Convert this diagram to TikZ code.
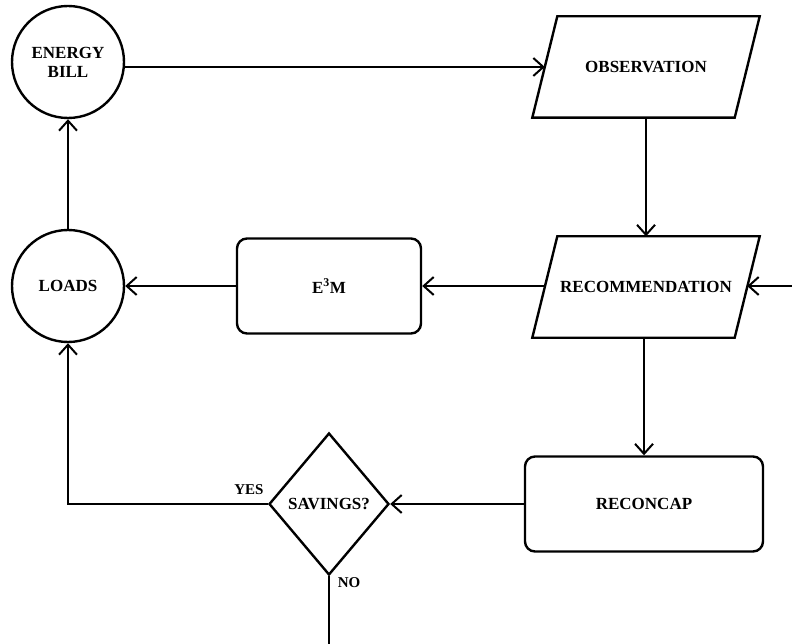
\documentclass[tikz,border=0pt]{standalone}
\usepackage{fontspec}
\setmainfont{Liberation Serif}
\usetikzlibrary{shapes.geometric,arrows.meta}

% slanted outline round a plain box node
\newcommand\slantbox[1]{%
  \draw[edge] ([xshift=-12.5pt]#1.south west) -- ([xshift=12.5pt]#1.north west)
    -- ([xshift=12.5pt]#1.north east) -- ([xshift=-12.5pt]#1.south east) -- cycle;}

\begin{document}
\begin{tikzpicture}[x=1pt,y=-1pt,
  every node/.style={font=\bfseries\fontsize{17}{19}\selectfont,align=center},
  edge/.style={line width=2.4pt,line join=miter},
  circ/.style={draw,edge,circle,minimum size=112pt,inner sep=0pt},
  blk/.style={draw,edge,rounded corners=10pt,minimum width=184pt,minimum height=95pt},
  io/.style={minimum width=202pt,minimum height=101pt},
  dec/.style={draw,edge,diamond,minimum width=120pt,minimum height=142pt,inner sep=0pt},
  flow/.style={line width=2pt,-{Straight Barb[length=10pt,width=18pt,line width=2pt]}},
  lbl/.style={font=\bfseries\fontsize{15}{17}\selectfont}]
  \useasboundingbox (0,0) rectangle (792,644);

  % shapes
  \node[circ] (bill) at (68,62) {ENERGY\\BILL};
  \node[circ] (loads) at (68,286) {LOADS};
  \node[io] (obs) at (646,67) {OBSERVATION};
  \node[io] (rec) at (646,287) {RECOMMENDATION};
  \slantbox{obs}
  \slantbox{rec}
  \node[blk] (eem) at (329,286) {E\textsuperscript{3}M};
  \node[blk,minimum width=238pt] (recon) at (644,504) {RECONCAP};
  \node[dec] (sav) at (329,504) {SAVINGS?};

  % free ends
  \coordinate (inR) at (792,286);
  \coordinate (noEnd) at (329,644);

  % connectors
  \draw[flow] (bill.east |- obs) -- (obs);
  \draw[flow] (obs) -- (rec);
  \draw[flow] (inR) -- (rec.east |- inR);
  \draw[flow] (rec.west |- eem) -- (eem);
  \draw[flow] (eem) -- (loads);
  \draw[flow] (loads) -- (bill);
  \draw[flow] (rec.south -| recon) -- (recon);
  \draw[flow] (recon) -- (sav);
  \draw[flow] (sav.west) -| (loads.south);
  \draw[line width=2pt] (sav.south) -- (noEnd);

  % labels
  \node[lbl] (yes) at (249,490) {YES};
  \node[lbl] (no) at (349,583) {NO};
\end{tikzpicture}
\end{document}
